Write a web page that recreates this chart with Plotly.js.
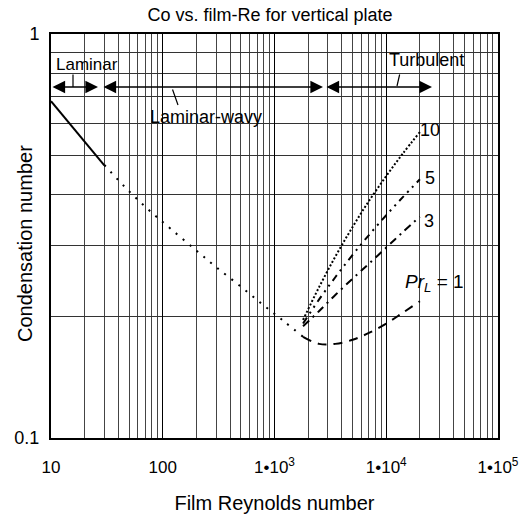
<!DOCTYPE html>
<html>
<head>
<meta charset="utf-8">
<script src="https://cdn.plot.ly/plotly-3.0.1.min.js"></script>
<style>html,body{margin:0;padding:0;background:#fff;}#chart{width:520px;height:518px;}</style>
</head>
<body>
<div id="chart"></div>
<script>
// ---- data ----
const reLaminar = [10, 15, 20, 30];
const coLaminar = [0.682, 0.596, 0.542, 0.473];

const reWavy = [30, 50, 80, 120, 200, 300, 500, 800, 1200, 1800];
const coWavy = [0.474, 0.408, 0.361, 0.328, 0.291, 0.265, 0.237, 0.213, 0.195, 0.178];

const reTurb = [1800, 2500, 3500, 5000, 7000, 10000, 14000, 20000];
const coPr1  = [0.178, 0.171, 0.171, 0.175, 0.182, 0.192, 0.204, 0.218];
const coPr3  = [0.189, 0.206, 0.226, 0.248, 0.270, 0.296, 0.323, 0.353];
const coPr5  = [0.192, 0.220, 0.250, 0.284, 0.318, 0.356, 0.394, 0.437];
const coPr10 = [0.196, 0.236, 0.281, 0.333, 0.386, 0.445, 0.505, 0.572];

const xTickVals = [10, 100, 1000, 10000, 100000];
const xTickText = ['10', '100', '1•10<sup>3</sup>', '1•10<sup>4</sup>', '1•10<sup>5</sup>'];
const yTickVals = [0.1, 1];
const yTickText = ['0.1', '1'];

const curveLabels = ['10', '5', '3', '<i>Pr</i><sub><i>L</i></sub> = 1'];
const regimeLabels = ['Laminar', 'Laminar-wavy', 'Turbulent'];
const titleText = 'Co vs. film-Re for vertical plate';
const xTitle = 'Film Reynolds number';
const yTitle = 'Condensation number';

// ---- layout helpers (pixel -> paper) ----
const M = {l: 51, r: 22, t: 34, b: 80};
const PW = 520 - M.l - M.r, PH = 518 - M.t - M.b;
const px = v => (v - M.l) / PW;
const py = v => (518 - M.b - v) / PH;

const FONT = 'Liberation Sans, Arial, sans-serif';

const traces = [
  {x: reLaminar, y: coLaminar, mode: 'lines', line: {color: '#000', width: 2}},
  {x: reWavy, y: coWavy, mode: 'lines', line: {color: '#000', width: 2, dash: '2px,7px', shape: 'spline'}},
  {x: reTurb, y: coPr10, mode: 'lines', line: {color: '#000', width: 2, dash: '2px,2px', shape: 'spline'}},
  {x: reTurb, y: coPr5, mode: 'lines', line: {color: '#000', width: 2, dash: '7px,5px,2px,5px,2px,5px', shape: 'spline'}},
  {x: reTurb, y: coPr3, mode: 'lines', line: {color: '#000', width: 2, dash: '8px,5px,2px,5px', shape: 'spline'}},
  {x: reTurb, y: coPr1, mode: 'lines', line: {color: '#000', width: 2, dash: '9px,7px', shape: 'spline'}}
];

function dblArrow(x0, x1, y) {
  return {xref: 'paper', yref: 'paper', axref: 'paper', ayref: 'paper',
    x: px(x1), y: py(y), ax: px(x0), ay: py(y), text: '', showarrow: true,
    arrowside: 'end+start', arrowhead: 2, arrowsize: 1.8, arrowwidth: 1.4, arrowcolor: '#000'};
}
function leader(x0, y0, x1, y1) {
  return {xref: 'paper', yref: 'paper', axref: 'paper', ayref: 'paper',
    x: px(x1), y: py(y1), ax: px(x0), ay: py(y0), text: '', showarrow: true,
    arrowhead: 0, arrowwidth: 1.2, arrowcolor: '#000'};
}
function label(txt, x, y, size, angle) {
  return {xref: 'paper', yref: 'paper', x: px(x), y: py(y), text: txt, showarrow: false,
    textangle: angle || 0,
    xanchor: 'center', yanchor: 'middle', font: {family: FONT, size: size || 18, color: '#000'}};
}

const annotations = [
  dblArrow(51, 98, 87),
  dblArrow(102, 323, 87),
  dblArrow(325, 432, 87),
  leader(73, 73, 73, 87),
  leader(400, 73, 397, 86),
  leader(172, 88, 178, 105),
  label(regimeLabels[0], 87, 65, 17),
  label(regimeLabels[1], 206, 117, 18),
  label(regimeLabels[2], 426, 60, 18),
  label(curveLabels[0], 430, 130, 18),
  label(curveLabels[1], 430, 178, 18),
  label(curveLabels[2], 429, 221, 18),
  label(curveLabels[3], 434, 283, 19),
  label(yTitle, 25, 244, 20, -90)
];

const layout = {
  width: 520, height: 518,
  margin: M,
  paper_bgcolor: '#fff', plot_bgcolor: '#fff',
  showlegend: false,
  font: {family: FONT, color: '#000', size: 16},
  title: {text: titleText, font: {family: FONT, size: 18, color: '#000'},
          x: 0.49, xref: 'paper', xanchor: 'center', y: 0.971, yanchor: 'middle'},
  xaxis: {
    type: 'log', range: [1, 5],
    tickmode: 'array', tickvals: xTickVals, ticktext: xTickText,
    ticks: '', ticklabelstandoff: 13,
    tickfont: {family: FONT, size: 17, color: '#000'},
    showgrid: true, gridcolor: '#000', gridwidth: 1.3,
    minor: {dtick: 'D1', showgrid: true, gridcolor: '#444', gridwidth: 1, ticks: ''},
    showline: true, linecolor: '#000', linewidth: 2, mirror: true,
    zeroline: false,
    title: {text: xTitle, font: {family: FONT, size: 20, color: '#000'}, standoff: 20}
  },
  yaxis: {
    type: 'log', range: [-1, 0],
    tickmode: 'array', tickvals: yTickVals, ticktext: yTickText,
    ticks: '', ticklabelstandoff: 6,
    tickfont: {family: FONT, size: 18, color: '#000'},
    showgrid: true, gridcolor: '#000', gridwidth: 1.3,
    minor: {dtick: 'D1', showgrid: true, gridcolor: '#333', gridwidth: 1, ticks: ''},
    showline: true, linecolor: '#000', linewidth: 2, mirror: true,
    zeroline: false
  },
  annotations: annotations
};

Plotly.newPlot('chart', traces, layout, {displayModeBar: false, staticPlot: true});
</script>
</body>
</html>
